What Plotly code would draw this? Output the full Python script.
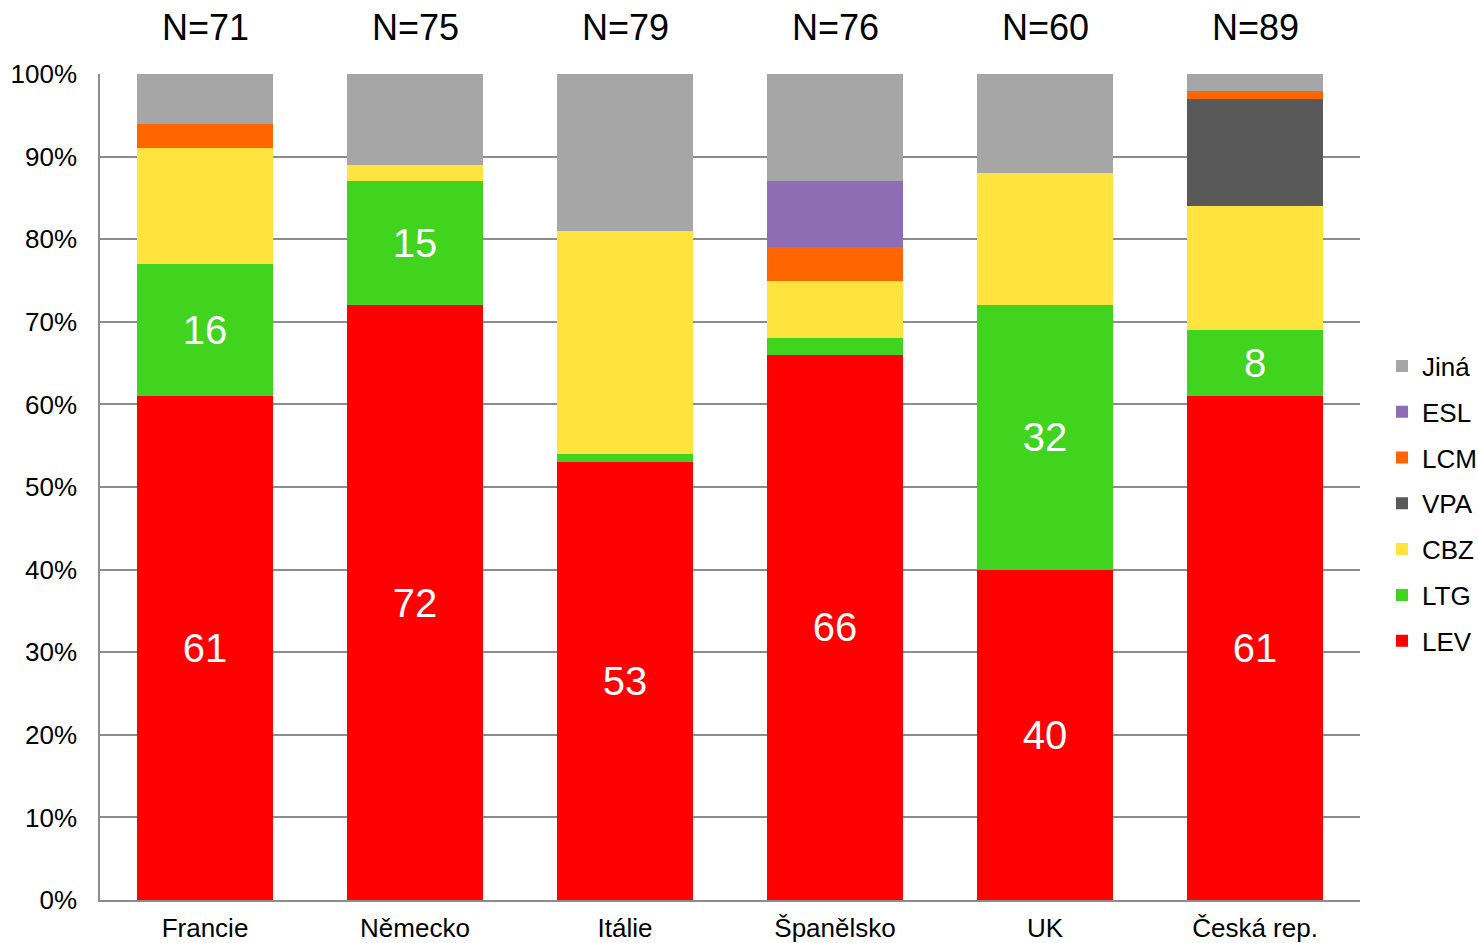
import plotly.graph_objects as go

# Countries (x categories) and sample sizes shown above the bars
countries = ["Francie", "Německo", "Itálie", "Španělsko", "UK", "Česká rep."]
sample_sizes = [71, 75, 79, 76, 60, 89]

# Share of patients (%) per drug, stacked bottom to top
lev = [61, 72, 53, 66, 40, 61]
ltg = [16, 15, 1, 2, 32, 8]
cbz = [14, 2, 27, 7, 16, 15]
vpa = [0, 0, 0, 0, 0, 13]
lcm = [3, 0, 0, 4, 0, 1]
esl = [0, 0, 0, 8, 0, 0]
jina = [6, 11, 19, 13, 12, 2]

# Segments that carry a value label
lev_labels = [str(v) for v in lev]
ltg_labels = ["16", "15", "", "", "32", "8"]

series = [
    ("LEV", lev, "#FF0000", lev_labels),
    ("LTG", ltg, "#40D41E", ltg_labels),
    ("CBZ", cbz, "#FFE43F", None),
    ("VPA", vpa, "#595959", None),
    ("LCM", lcm, "#FF6600", None),
    ("ESL", esl, "#8E6DB5", None),
    ("Jiná", jina, "#A6A6A6", None),
]

FONT = "Liberation Sans, Arial, sans-serif"

fig = go.Figure()
for i, (name, values, color, labels) in enumerate(series):
    fig.add_trace(go.Bar(
        name=name,
        x=countries,
        y=values,
        marker=dict(color=color, line=dict(width=0)),
        text=labels,
        texttemplate="%{text}" if labels else None,
        textposition="inside" if labels else "none",
        insidetextanchor="middle",
        textangle=0,
        constraintext="none",
        textfont=dict(color="white", size=40, family=FONT),
        hoverinfo="name+y",
        legendgroup=name,
        # top segment listed first in the legend
        legendrank=1000 - i,
    ))

# Sample size captions above each column
for country, n in zip(countries, sample_sizes):
    fig.add_annotation(
        x=country, y=1.0557, xref="x", yref="paper",
        text=f"N={n}", showarrow=False,
        font=dict(size=36, color="black", family=FONT),
        yanchor="middle", xanchor="center",
    )

fig.update_layout(
    width=1478, height=943,
    barmode="stack",
    bargap=0.352,
    plot_bgcolor="white",
    paper_bgcolor="white",
    margin=dict(l=100, r=118, t=74, b=43, autoexpand=False),
    font=dict(family=FONT, color="black"),
    legend=dict(
        traceorder="grouped",
        xref="container", yref="container",
        x=1382 / 1478, xanchor="left",
        y=1 - 503.5 / 943, yanchor="middle",
        font=dict(size=26, family=FONT, color="black"),
        tracegroupgap=9,
        itemwidth=30,
        bgcolor="rgba(0,0,0,0)",
    ),
    showlegend=True,
)

fig.update_yaxes(
    range=[0, 100],
    tickvals=list(range(0, 101, 10)),
    ticktext=[f"{v}%" for v in range(0, 101, 10)],
    tickfont=dict(size=26, family=FONT, color="black"),
    showgrid=True, gridcolor="#8C8C8C", gridwidth=1.5,
    showline=True, linecolor="#8C8C8C", linewidth=1.5,
    zeroline=False,
    ticks="",
    ticklabelstandoff=16,
    automargin=False,
)
fig.update_xaxes(
    tickfont=dict(size=26, family=FONT, color="black"),
    showline=True, linecolor="#8C8C8C", linewidth=1.5,
    ticks="",
    showgrid=False,
    ticklabelstandoff=4,
    automargin=False,
)

fig.write_html("out.html")
